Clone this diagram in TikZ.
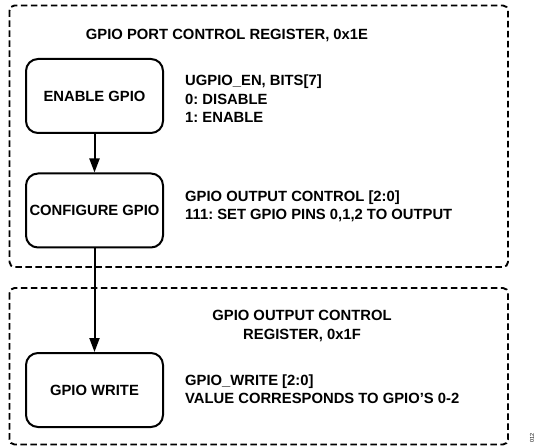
\documentclass[tikz,border=0pt]{standalone}
\usepackage{fontspec}
\setmainfont{Liberation Sans}
\usetikzlibrary{arrows.meta}
\begin{document}
\frenchspacing
\begin{tikzpicture}[x=1pt,y=-1pt,
  every node/.style={font=\fontsize{14.8}{18.5}\selectfont\bfseries},
  regbox/.style={draw=black,line width=1.9pt,dash pattern=on 6.5pt off 3.5pt,rounded corners=5pt},
  stepbox/.style={draw=black,line width=2pt,rounded corners=12pt,minimum width=137pt,minimum height=74pt,inner sep=0pt,align=center},
  info/.style={anchor=west,align=left,inner sep=0pt},
  flow/.style={line width=2pt,-{Triangle[length=14pt,width=10pt]}}]
\useasboundingbox (0,0) rectangle (543,446);
% register boxes
\draw[regbox] (9.5,5.5) rectangle (508,267);
\draw[regbox] (9.5,288) rectangle (508,444.5);
% titles
\node[inner sep=0pt] (t1) at (227,35) {GPIO PORT CONTROL REGISTER, 0x1E};
\node[inner sep=0pt,align=center] (t2) at (302,326) {GPIO OUTPUT CONTROL\\REGISTER, 0x1F};
% steps
\node[stepbox] (en) at (94.5,96) {ENABLE GPIO};
\node[stepbox] (cfg) at (94.5,210.5) {CONFIGURE GPIO};
\node[stepbox] (wr) at (94.5,390) {GPIO WRITE};
% descriptions
\node[info] (d1) at (185,99) {UGPIO\_EN, BITS[7]\\0: DISABLE\\1: ENABLE};
\node[info] (d2) at (185,206.5) {GPIO OUTPUT CONTROL [2:0]\\111: SET GPIO PINS 0,1,2 TO OUTPUT};
\node[info] (d3) at (185,389) {GPIO\_WRITE [2:0]\\VALUE CORRESPONDS TO GPIO’S 0-2};
% arrows
\draw[flow] (en) -- (cfg);
\draw[flow] (cfg) -- (wr);
% figure id
\node[font=\fontsize{5.5}{6}\selectfont,rotate=90,inner sep=0pt] (fid) at (532,438) {012};
\end{tikzpicture}
\end{document}
